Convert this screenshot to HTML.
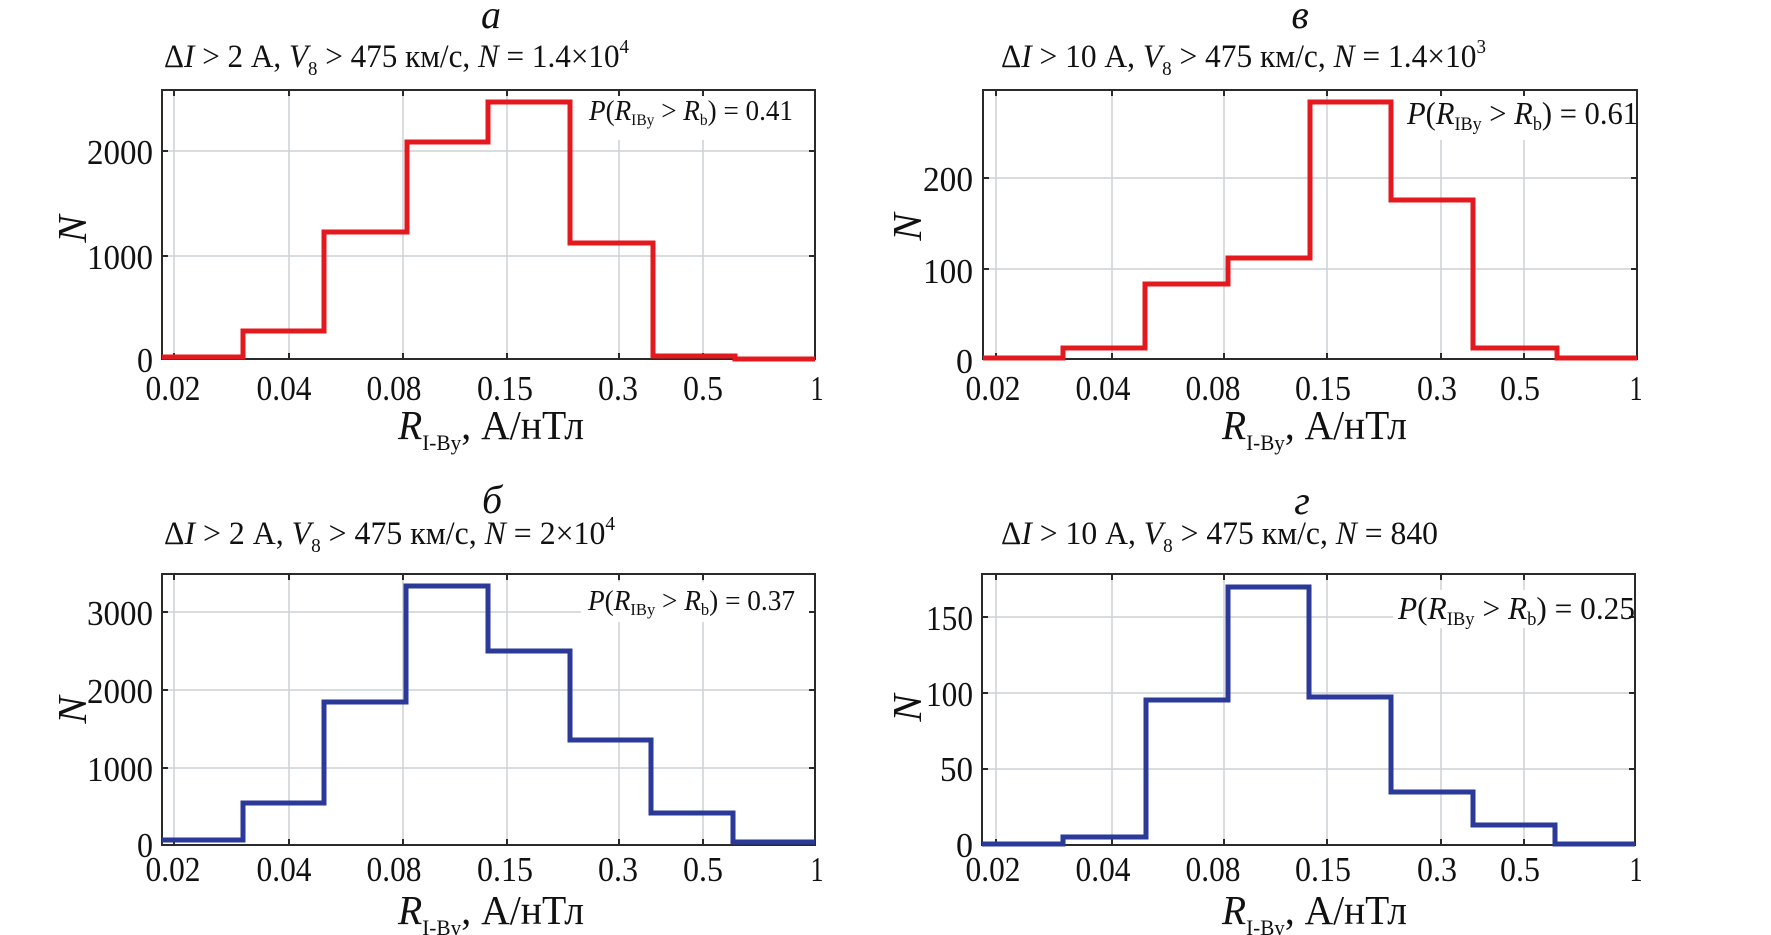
<!DOCTYPE html>
<html>
<head>
<meta charset="utf-8">
<style>
html,body{margin:0;padding:0;background:#fff;}
svg{display:block;}
text{font-family:"Liberation Serif","DejaVu Serif",serif;fill:#111;}
.it{font-style:italic;}
</style>
</head>
<body>
<svg width="1771" height="935" viewBox="0 0 1771 935" xmlns="http://www.w3.org/2000/svg">
<rect width="1771" height="935" fill="#fff"/>

<!-- ================= PANEL а (top-left) ================= -->
<g stroke="#cdd2d6" stroke-width="1.5">
  <line x1="174" y1="90" x2="174" y2="359"/>
  <line x1="289" y1="90" x2="289" y2="359"/>
  <line x1="403" y1="90" x2="403" y2="359"/>
  <line x1="507" y1="90" x2="507" y2="359"/>
  <line x1="619" y1="90" x2="619" y2="359"/>
  <line x1="703" y1="90" x2="703" y2="359"/>
  <line x1="162" y1="151" x2="815" y2="151"/>
  <line x1="162" y1="256" x2="815" y2="256"/>
</g>
<rect x="585" y="93" width="227" height="47" fill="#fff"/>
<g stroke="#2a2a2a" stroke-width="2">
  <line x1="174" y1="359" x2="174" y2="353"/><line x1="289" y1="359" x2="289" y2="353"/><line x1="403" y1="359" x2="403" y2="353"/><line x1="507" y1="359" x2="507" y2="353"/><line x1="619" y1="359" x2="619" y2="353"/><line x1="703" y1="359" x2="703" y2="353"/>
  <line x1="174" y1="90" x2="174" y2="96"/><line x1="289" y1="90" x2="289" y2="96"/><line x1="403" y1="90" x2="403" y2="96"/><line x1="507" y1="90" x2="507" y2="96"/><line x1="619" y1="90" x2="619" y2="96"/><line x1="703" y1="90" x2="703" y2="96"/>
  <line x1="162" y1="151" x2="168" y2="151"/><line x1="162" y1="256" x2="168" y2="256"/>
  <line x1="815" y1="151" x2="809" y2="151"/><line x1="815" y1="256" x2="809" y2="256"/>
</g>
<rect x="162" y="90" width="653" height="269" fill="none" stroke="#2a2a2a" stroke-width="2"/>
<path d="M162,357 H243 V331 H324 V232 H407 V142 H488 V102 H570 V243 H653 V356 H735 V359 H815" fill="none" stroke="#e3191f" stroke-width="5" stroke-linejoin="miter"/>

<text x="491" y="28" class="it" font-size="40" text-anchor="middle">а</text>
<text x="164" y="67" font-size="33" textLength="465" lengthAdjust="spacingAndGlyphs">Δ<tspan class="it">I</tspan> &gt; 2 А, <tspan class="it">V</tspan><tspan font-size="20" dy="8">8</tspan><tspan dy="-8"> &gt; 475 км/с, </tspan><tspan class="it">N</tspan> = 1.4×10<tspan font-size="20" dy="-14">4</tspan></text>
<text x="589" y="120" font-size="28" textLength="204" lengthAdjust="spacingAndGlyphs"><tspan class="it">P</tspan>(<tspan class="it">R</tspan><tspan font-size="16" dy="5">IBy</tspan><tspan dy="-5"> &gt; </tspan><tspan class="it">R</tspan><tspan font-size="16" dy="5">b</tspan><tspan dy="-5">) = 0.41</tspan></text>

<g font-size="35" text-anchor="end">
  <text x="153" y="164" textLength="66" lengthAdjust="spacingAndGlyphs">2000</text>
  <text x="153" y="269" textLength="66" lengthAdjust="spacingAndGlyphs">1000</text>
  <text x="153" y="372" textLength="16" lengthAdjust="spacingAndGlyphs">0</text>
</g>
<g font-size="35" text-anchor="middle">
  <text x="173" y="400" textLength="55" lengthAdjust="spacingAndGlyphs">0.02</text>
  <text x="284" y="400" textLength="55" lengthAdjust="spacingAndGlyphs">0.04</text>
  <text x="394" y="400" textLength="55" lengthAdjust="spacingAndGlyphs">0.08</text>
  <text x="505" y="400" textLength="56" lengthAdjust="spacingAndGlyphs">0.15</text>
  <text x="618" y="400" textLength="40" lengthAdjust="spacingAndGlyphs">0.3</text>
  <text x="703" y="400" textLength="40" lengthAdjust="spacingAndGlyphs">0.5</text>
  <text x="817" y="400" textLength="13" lengthAdjust="spacingAndGlyphs">1</text>
</g>
<text x="398" y="439" font-size="41" textLength="186" lengthAdjust="spacingAndGlyphs"><tspan class="it">R</tspan><tspan font-size="22" dy="11">I-By</tspan><tspan dy="-11">, А/нТл</tspan></text>
<text transform="translate(86,229) rotate(-90)" class="it" font-size="41" text-anchor="middle">N</text>

<!-- ================= PANEL в (top-right) ================= -->
<g stroke="#cdd2d6" stroke-width="1.5">
  <line x1="996" y1="90" x2="996" y2="359"/>
  <line x1="1112" y1="90" x2="1112" y2="359"/>
  <line x1="1224" y1="90" x2="1224" y2="359"/>
  <line x1="1327" y1="90" x2="1327" y2="359"/>
  <line x1="1441" y1="90" x2="1441" y2="359"/>
  <line x1="1524" y1="90" x2="1524" y2="359"/>
  <line x1="983" y1="178" x2="1637" y2="178"/>
  <line x1="983" y1="269" x2="1637" y2="269"/>
</g>
<rect x="1403" y="92" width="233" height="48" fill="#fff"/>
<g stroke="#2a2a2a" stroke-width="2">
  <line x1="996" y1="359" x2="996" y2="353"/><line x1="1112" y1="359" x2="1112" y2="353"/><line x1="1224" y1="359" x2="1224" y2="353"/><line x1="1327" y1="359" x2="1327" y2="353"/><line x1="1441" y1="359" x2="1441" y2="353"/><line x1="1524" y1="359" x2="1524" y2="353"/>
  <line x1="996" y1="90" x2="996" y2="96"/><line x1="1112" y1="90" x2="1112" y2="96"/><line x1="1224" y1="90" x2="1224" y2="96"/><line x1="1327" y1="90" x2="1327" y2="96"/><line x1="1441" y1="90" x2="1441" y2="96"/><line x1="1524" y1="90" x2="1524" y2="96"/>
  <line x1="983" y1="178" x2="989" y2="178"/><line x1="983" y1="269" x2="989" y2="269"/>
  <line x1="1637" y1="178" x2="1631" y2="178"/><line x1="1637" y1="269" x2="1631" y2="269"/>
</g>
<rect x="983" y="90" width="654" height="269" fill="none" stroke="#2a2a2a" stroke-width="2"/>
<path d="M983,358 H1063 V348 H1145 V284 H1228 V258 H1310 V102 H1391 V200 H1473 V348 H1557 V358 H1637" fill="none" stroke="#e3191f" stroke-width="5"/>

<text x="1300" y="28" class="it" font-size="40" text-anchor="middle">в</text>
<text x="1001" y="67" font-size="33" textLength="485" lengthAdjust="spacingAndGlyphs">Δ<tspan class="it">I</tspan> &gt; 10 А, <tspan class="it">V</tspan><tspan font-size="20" dy="8">8</tspan><tspan dy="-8"> &gt; 475 км/с, </tspan><tspan class="it">N</tspan> = 1.4×10<tspan font-size="20" dy="-14">3</tspan></text>
<text x="1407" y="124" font-size="32" textLength="231" lengthAdjust="spacingAndGlyphs"><tspan class="it">P</tspan>(<tspan class="it">R</tspan><tspan font-size="19" dy="6">IBy</tspan><tspan dy="-6"> &gt; </tspan><tspan class="it">R</tspan><tspan font-size="19" dy="6">b</tspan><tspan dy="-6">) = 0.61</tspan></text>

<g font-size="35" text-anchor="end">
  <text x="973" y="191" textLength="50" lengthAdjust="spacingAndGlyphs">200</text>
  <text x="973" y="283" textLength="50" lengthAdjust="spacingAndGlyphs">100</text>
  <text x="973" y="373" textLength="17" lengthAdjust="spacingAndGlyphs">0</text>
</g>
<g font-size="35" text-anchor="middle">
  <text x="993" y="400" textLength="55" lengthAdjust="spacingAndGlyphs">0.02</text>
  <text x="1103" y="400" textLength="55" lengthAdjust="spacingAndGlyphs">0.04</text>
  <text x="1213" y="400" textLength="55" lengthAdjust="spacingAndGlyphs">0.08</text>
  <text x="1323" y="400" textLength="56" lengthAdjust="spacingAndGlyphs">0.15</text>
  <text x="1437" y="400" textLength="40" lengthAdjust="spacingAndGlyphs">0.3</text>
  <text x="1520" y="400" textLength="40" lengthAdjust="spacingAndGlyphs">0.5</text>
  <text x="1636" y="400" textLength="13" lengthAdjust="spacingAndGlyphs">1</text>
</g>
<text x="1222" y="439" font-size="41" textLength="185" lengthAdjust="spacingAndGlyphs"><tspan class="it">R</tspan><tspan font-size="22" dy="11">I-By</tspan><tspan dy="-11">, А/нТл</tspan></text>
<text transform="translate(921,227) rotate(-90)" class="it" font-size="41" text-anchor="middle">N</text>

<!-- ================= PANEL б (bottom-left) ================= -->
<g stroke="#cdd2d6" stroke-width="1.5">
  <line x1="174" y1="574" x2="174" y2="845"/>
  <line x1="289" y1="574" x2="289" y2="845"/>
  <line x1="403" y1="574" x2="403" y2="845"/>
  <line x1="507" y1="574" x2="507" y2="845"/>
  <line x1="619" y1="574" x2="619" y2="845"/>
  <line x1="703" y1="574" x2="703" y2="845"/>
  <line x1="162" y1="612" x2="815" y2="612"/>
  <line x1="162" y1="690" x2="815" y2="690"/>
  <line x1="162" y1="768" x2="815" y2="768"/>
</g>
<rect x="581" y="582" width="231" height="40" fill="#fff"/>
<g stroke="#2a2a2a" stroke-width="2">
  <line x1="174" y1="845" x2="174" y2="839"/><line x1="289" y1="845" x2="289" y2="839"/><line x1="403" y1="845" x2="403" y2="839"/><line x1="507" y1="845" x2="507" y2="839"/><line x1="619" y1="845" x2="619" y2="839"/><line x1="703" y1="845" x2="703" y2="839"/>
  <line x1="174" y1="574" x2="174" y2="580"/><line x1="289" y1="574" x2="289" y2="580"/><line x1="403" y1="574" x2="403" y2="580"/><line x1="507" y1="574" x2="507" y2="580"/><line x1="619" y1="574" x2="619" y2="580"/><line x1="703" y1="574" x2="703" y2="580"/>
  <line x1="162" y1="612" x2="168" y2="612"/><line x1="162" y1="690" x2="168" y2="690"/><line x1="162" y1="768" x2="168" y2="768"/>
  <line x1="815" y1="612" x2="809" y2="612"/><line x1="815" y1="690" x2="809" y2="690"/><line x1="815" y1="768" x2="809" y2="768"/>
</g>
<rect x="162" y="574" width="653" height="271" fill="none" stroke="#2a2a2a" stroke-width="2"/>
<path d="M162,840 H243 V803 H324 V702 H406 V586 H488 V651 H570 V740 H651 V813 H733 V842 H815" fill="none" stroke="#2b3a98" stroke-width="5"/>

<text x="492" y="513" class="it" font-size="40" text-anchor="middle">б</text>
<text x="164" y="544" font-size="33" textLength="451" lengthAdjust="spacingAndGlyphs">Δ<tspan class="it">I</tspan> &gt; 2 А, <tspan class="it">V</tspan><tspan font-size="20" dy="8">8</tspan><tspan dy="-8"> &gt; 475 км/с, </tspan><tspan class="it">N</tspan> = 2×10<tspan font-size="20" dy="-14">4</tspan></text>
<text x="588" y="610" font-size="28" textLength="207" lengthAdjust="spacingAndGlyphs"><tspan class="it">P</tspan>(<tspan class="it">R</tspan><tspan font-size="17" dy="5">IBy</tspan><tspan dy="-5"> &gt; </tspan><tspan class="it">R</tspan><tspan font-size="17" dy="5">b</tspan><tspan dy="-5">) = 0.37</tspan></text>

<g font-size="35" text-anchor="end">
  <text x="153" y="625" textLength="66" lengthAdjust="spacingAndGlyphs">3000</text>
  <text x="153" y="703" textLength="66" lengthAdjust="spacingAndGlyphs">2000</text>
  <text x="153" y="781" textLength="66" lengthAdjust="spacingAndGlyphs">1000</text>
  <text x="153" y="857" textLength="16" lengthAdjust="spacingAndGlyphs">0</text>
</g>
<g font-size="35" text-anchor="middle">
  <text x="173" y="881" textLength="55" lengthAdjust="spacingAndGlyphs">0.02</text>
  <text x="284" y="881" textLength="55" lengthAdjust="spacingAndGlyphs">0.04</text>
  <text x="394" y="881" textLength="55" lengthAdjust="spacingAndGlyphs">0.08</text>
  <text x="505" y="881" textLength="56" lengthAdjust="spacingAndGlyphs">0.15</text>
  <text x="618" y="881" textLength="40" lengthAdjust="spacingAndGlyphs">0.3</text>
  <text x="703" y="881" textLength="40" lengthAdjust="spacingAndGlyphs">0.5</text>
  <text x="817" y="881" textLength="13" lengthAdjust="spacingAndGlyphs">1</text>
</g>
<text x="398" y="924" font-size="41" textLength="186" lengthAdjust="spacingAndGlyphs"><tspan class="it">R</tspan><tspan font-size="22" dy="11">I-By</tspan><tspan dy="-11">, А/нТл</tspan></text>
<text transform="translate(86,710) rotate(-90)" class="it" font-size="41" text-anchor="middle">N</text>

<!-- ================= PANEL г (bottom-right) ================= -->
<g stroke="#cdd2d6" stroke-width="1.5">
  <line x1="996" y1="574" x2="996" y2="845"/>
  <line x1="1112" y1="574" x2="1112" y2="845"/>
  <line x1="1224" y1="574" x2="1224" y2="845"/>
  <line x1="1327" y1="574" x2="1327" y2="845"/>
  <line x1="1441" y1="574" x2="1441" y2="845"/>
  <line x1="1524" y1="574" x2="1524" y2="845"/>
  <line x1="982" y1="617" x2="1635" y2="617"/>
  <line x1="982" y1="693" x2="1635" y2="693"/>
  <line x1="982" y1="769" x2="1635" y2="769"/>
</g>
<rect x="1393" y="590" width="241" height="38" fill="#fff"/>
<g stroke="#2a2a2a" stroke-width="2">
  <line x1="996" y1="845" x2="996" y2="839"/><line x1="1112" y1="845" x2="1112" y2="839"/><line x1="1224" y1="845" x2="1224" y2="839"/><line x1="1327" y1="845" x2="1327" y2="839"/><line x1="1441" y1="845" x2="1441" y2="839"/><line x1="1524" y1="845" x2="1524" y2="839"/>
  <line x1="996" y1="574" x2="996" y2="580"/><line x1="1112" y1="574" x2="1112" y2="580"/><line x1="1224" y1="574" x2="1224" y2="580"/><line x1="1327" y1="574" x2="1327" y2="580"/><line x1="1441" y1="574" x2="1441" y2="580"/><line x1="1524" y1="574" x2="1524" y2="580"/>
  <line x1="982" y1="617" x2="988" y2="617"/><line x1="982" y1="693" x2="988" y2="693"/><line x1="982" y1="769" x2="988" y2="769"/>
  <line x1="1635" y1="617" x2="1629" y2="617"/><line x1="1635" y1="693" x2="1629" y2="693"/><line x1="1635" y1="769" x2="1629" y2="769"/>
</g>
<rect x="982" y="574" width="653" height="271" fill="none" stroke="#2a2a2a" stroke-width="2"/>
<path d="M982,844 H1063 V837 H1146 V700 H1228 V587 H1309 V697 H1391 V792 H1473 V825 H1555 V844 H1635" fill="none" stroke="#2b3a98" stroke-width="5"/>

<text x="1302" y="514" class="it" font-size="40" text-anchor="middle">г</text>
<text x="1001" y="544" font-size="33" textLength="437" lengthAdjust="spacingAndGlyphs">Δ<tspan class="it">I</tspan> &gt; 10 А, <tspan class="it">V</tspan><tspan font-size="20" dy="8">8</tspan><tspan dy="-8"> &gt; 475 км/с, </tspan><tspan class="it">N</tspan> = 840</text>
<text x="1398" y="619" font-size="32" textLength="237" lengthAdjust="spacingAndGlyphs"><tspan class="it">P</tspan>(<tspan class="it">R</tspan><tspan font-size="19" dy="6">IBy</tspan><tspan dy="-6"> &gt; </tspan><tspan class="it">R</tspan><tspan font-size="19" dy="6">b</tspan><tspan dy="-6">) = 0.25</tspan></text>

<g font-size="35" text-anchor="end">
  <text x="973" y="630" textLength="47" lengthAdjust="spacingAndGlyphs">150</text>
  <text x="973" y="706" textLength="47" lengthAdjust="spacingAndGlyphs">100</text>
  <text x="973" y="781" textLength="33" lengthAdjust="spacingAndGlyphs">50</text>
  <text x="973" y="857" textLength="17" lengthAdjust="spacingAndGlyphs">0</text>
</g>
<g font-size="35" text-anchor="middle">
  <text x="993" y="881" textLength="55" lengthAdjust="spacingAndGlyphs">0.02</text>
  <text x="1103" y="881" textLength="55" lengthAdjust="spacingAndGlyphs">0.04</text>
  <text x="1213" y="881" textLength="55" lengthAdjust="spacingAndGlyphs">0.08</text>
  <text x="1323" y="881" textLength="56" lengthAdjust="spacingAndGlyphs">0.15</text>
  <text x="1437" y="881" textLength="40" lengthAdjust="spacingAndGlyphs">0.3</text>
  <text x="1520" y="881" textLength="40" lengthAdjust="spacingAndGlyphs">0.5</text>
  <text x="1636" y="881" textLength="13" lengthAdjust="spacingAndGlyphs">1</text>
</g>
<text x="1222" y="924" font-size="41" textLength="185" lengthAdjust="spacingAndGlyphs"><tspan class="it">R</tspan><tspan font-size="22" dy="11">I-By</tspan><tspan dy="-11">, А/нТл</tspan></text>
<text transform="translate(921,708) rotate(-90)" class="it" font-size="41" text-anchor="middle">N</text>

</svg>
</body>
</html>
